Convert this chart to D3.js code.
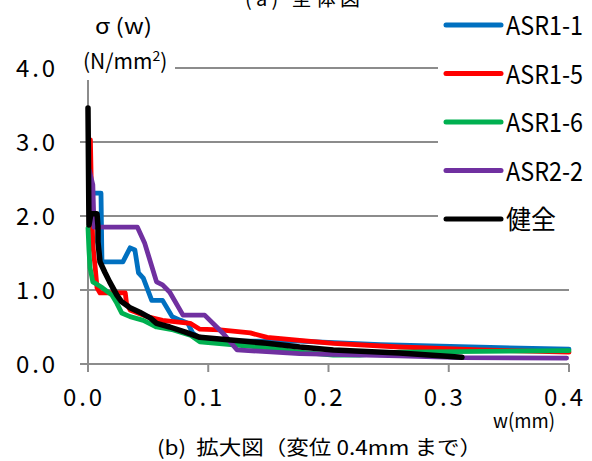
<!DOCTYPE html>
<html>
<head>
<meta charset="utf-8">
<script src="https://cdn.jsdelivr.net/npm/d3@7"></script>
<style>
    body { margin: 0; background: #fff; }
    text { font-family: "Noto Sans CJK JP", "DejaVu Sans", sans-serif; fill: #000; white-space: pre; }
</style>
</head>
<body>
<div id="chart"></div>
<script>
// Series data: [w (mm), sigma (N/mm2)]
const asr1_1 = [[0.0005, 2.5], [0.0033, 2.31], [0.0108, 2.31], [0.0116, 1.38], [0.029, 1.38], [0.035, 1.57],
    [0.039, 1.54], [0.042, 1.23], [0.046, 1.16], [0.053, 0.86], [0.062, 0.86], [0.070, 0.64], [0.077, 0.59],
    [0.083, 0.55], [0.087, 0.42], [0.096, 0.31], [0.121, 0.31], [0.176, 0.31], [0.243, 0.26], [0.318, 0.23], [0.400, 0.20]];
const asr1_5 = [[0.002, 3.03], [0.003, 2.2], [0.004, 1.61], [0.006, 1.30], [0.0075, 1.03], [0.010, 0.96], [0.031, 0.96],
    [0.032, 0.82], [0.035, 0.73], [0.049, 0.64], [0.062, 0.59], [0.085, 0.55], [0.093, 0.47], [0.110, 0.46],
    [0.135, 0.42], [0.149, 0.36], [0.176, 0.32], [0.204, 0.28], [0.259, 0.23], [0.326, 0.19], [0.400, 0.16]];
const asr1_6 = [[0.000, 1.84], [0.0008, 1.54], [0.0017, 1.30], [0.004, 1.11], [0.008, 1.07], [0.012, 1.03], [0.020, 0.93],
    [0.024, 0.82], [0.028, 0.69], [0.035, 0.64], [0.046, 0.59], [0.057, 0.50], [0.071, 0.46], [0.085, 0.39],
    [0.093, 0.30], [0.121, 0.26], [0.149, 0.22], [0.176, 0.16], [0.204, 0.12], [0.226, 0.12], [0.259, 0.16], [0.400, 0.18]];
const asr2_2 = [[0.001, 2.62], [0.004, 2.42], [0.005, 1.85], [0.041, 1.85], [0.047, 1.64], [0.057, 1.11], [0.062, 1.07],
    [0.068, 0.97], [0.079, 0.66], [0.097, 0.66], [0.107, 0.50], [0.112, 0.42], [0.124, 0.19], [0.176, 0.14],
    [0.259, 0.11], [0.311, 0.085], [0.398, 0.08]];
const kenzen = [[0.000, 3.46], [0.0008, 1.88], [0.0025, 2.03], [0.0075, 2.03], [0.0083, 1.86], [0.0083, 1.65],
    [0.010, 1.38], [0.014, 1.24], [0.018, 1.11], [0.024, 0.93], [0.028, 0.84], [0.035, 0.76], [0.043, 0.70],
    [0.052, 0.62], [0.057, 0.55], [0.068, 0.50], [0.081, 0.43], [0.093, 0.36], [0.121, 0.32], [0.149, 0.28],
    [0.176, 0.23], [0.204, 0.19], [0.259, 0.15], [0.311, 0.09]];

const seriesNames = ['ASR1-1', 'ASR1-5', 'ASR1-6', 'ASR2-2', '健全'];
const seriesData = [asr1_1, asr1_5, asr1_6, asr2_2, kenzen];
const seriesColors = ['#0070C0', '#FF0000', '#00B050', '#7030A0', '#000000'];

const xTicks = [0, 0.1, 0.2, 0.3, 0.4];
const yTicks = [0, 1, 2, 3, 4];

const width = 592, height = 461;
const svg = d3.select('#chart').append('svg')
    .attr('width', width)
    .attr('height', height);

// plot area
const x = d3.scaleLinear().domain([0, 0.4]).range([88, 569]);
const y = d3.scaleLinear().domain([0, 4]).range([364, 68]);

const axisColor = '#8c8c8c';

// gridlines (also act as cross ticks on the y axis)
svg.append('g').selectAll('line')
    .data(yTicks)
    .enter().append('line')
    .attr('x1', x(0) - 8)
    .attr('x2', x(0.4))
    .attr('y1', d => y(d))
    .attr('y2', d => y(d))
    .attr('stroke', axisColor)
    .attr('stroke-width', 2);

// x axis ticks
svg.append('g').selectAll('line')
    .data(xTicks)
    .enter().append('line')
    .attr('x1', d => x(d))
    .attr('x2', d => x(d))
    .attr('y1', y(0))
    .attr('y2', y(0) + 8)
    .attr('stroke', axisColor)
    .attr('stroke-width', 2);

// y axis line
svg.append('line')
    .attr('x1', x(0)).attr('x2', x(0))
    .attr('y1', y(4)).attr('y2', y(0) + 8)
    .attr('stroke', axisColor)
    .attr('stroke-width', 2);

// series
const line = d3.line()
    .x(d => x(d[0]))
    .y(d => y(d[1]));

svg.append('g').selectAll('path')
    .data(seriesData)
    .enter().append('path')
    .attr('d', line)
    .attr('fill', 'none')
    .attr('stroke', (d, i) => seriesColors[i])
    .attr('stroke-width', (d, i) => i === 4 ? 5.5 : 4.8)
    .attr('stroke-linejoin', 'round')
    .attr('stroke-linecap', 'round');

// y title box covers the top of the axis and gridline
svg.append('rect')
    .attr('x', 66).attr('y', 0)
    .attr('width', 109).attr('height', 80)
    .attr('fill', '#fff');

svg.append('text')
    .attr('x', 95).attr('y', 34)
    .attr('font-size', 21)
    .attr('textLength', 57)
    .attr('lengthAdjust', 'spacingAndGlyphs')
    .text('σ (w)');

const unit = svg.append('text')
    .attr('x', 83).attr('y', 69)
    .attr('font-size', 21);
unit.append('tspan').text('(N/mm');
unit.append('tspan').attr('font-size', 14).attr('dy', -8).text('2');
unit.append('tspan').attr('dy', 8).text(')');

// tick labels
svg.append('g').selectAll('text')
    .data(yTicks)
    .enter().append('text')
    .attr('x', 16)
    .attr('y', d => y(d) + 9)
    .attr('font-size', 24)
    .attr('textLength', 39)
    .text(d => d3.format('.1f')(d));

svg.append('g').selectAll('text')
    .data(xTicks)
    .enter().append('text')
    .attr('x', d => x(d) - 25)
    .attr('y', 406)
    .attr('font-size', 24)
    .attr('textLength', 39)
    .text(d => d3.format('.1f')(d));

svg.append('text')
    .attr('x', 493).attr('y', 428)
    .attr('font-size', 20)
    .attr('textLength', 62)
    .attr('lengthAdjust', 'spacingAndGlyphs')
    .text('w(mm)');

// captions
svg.append('text')
    .attr('x', 157).attr('y', 455)
    .attr('font-size', 20)
    .attr('textLength', 325)
    .attr('lengthAdjust', 'spacingAndGlyphs')
    .text('(b)  拡大図（変位 0.4mm まで）');

svg.append('text')
    .attr('x', 245).attr('y', 6)
    .attr('font-size', 20)
    .attr('textLength', 115)
    .text('(a) 全体図');

// legend
const legend = svg.append('g');
legend.append('rect')
    .attr('x', 438).attr('y', 0)
    .attr('width', 154).attr('height', 245)
    .attr('fill', '#fff');

const item = legend.selectAll('g')
    .data(seriesNames)
    .enter().append('g')
    .attr('transform', (d, i) => `translate(0,${25 + i * 48.5})`);

item.append('line')
    .attr('x1', 446).attr('x2', 501)
    .attr('stroke', (d, i) => seriesColors[i])
    .attr('stroke-width', 5)
    .attr('stroke-linecap', 'round');

item.append('text')
    .attr('x', 506)
    .attr('y', 10)
    .attr('font-size', 26)
    .attr('textLength', (d, i) => i === 4 ? 50 : 77)
    .attr('lengthAdjust', 'spacingAndGlyphs')
    .text(d => d);
</script>
</body>
</html>
